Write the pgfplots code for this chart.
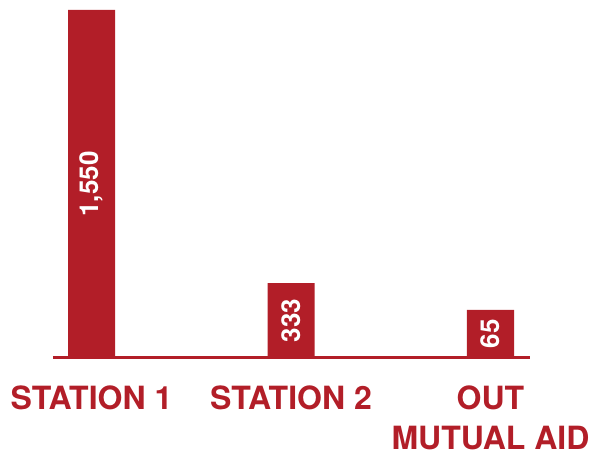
\documentclass[border=0pt]{standalone}
\usepackage{fontspec}
\setmainfont{TeX Gyre Heros}
\usepackage{pgfplots}
\usepackage{pgfplotstable}
\pgfplotsset{compat=1.18}
\definecolor{fdred}{RGB}{178,30,40}
\pgfplotstableread{
x y lab
0 1550 1,550
1 333 333
2 214 65
}\datatable
\begin{document}
\begin{tikzpicture}
\useasboundingbox (0,0) rectangle (592pt,457pt);
\begin{axis}[
  at={(53pt,99pt)}, anchor=south west,
  scale only axis, width=477pt, height=348pt,
  xmin=-0.193, xmax=2.198, ymin=0, ymax=1550,
  axis x line=bottom, axis y line=none,
  axis line style={line width=3pt, draw=fdred, -},
  xtick={0,1,2},
  xticklabels={STATION 1, STATION 2, {OUT\\MUTUAL AID}},
  major tick length=0pt,
  xticklabel shift=28pt,
  xticklabel style={font=\bfseries\fontsize{32}{40}\selectfont, text=fdred, align=center, anchor=north, inner sep=0pt},
  ybar, bar width=47pt,
  clip=false,
]
\addplot[fill=fdred, draw=none,
  point meta=explicit symbolic,
  visualization depends on=y \as \rawy,
  nodes near coords,
  nodes near coords style={shift={(axis direction cs:0,-\rawy/2)}, rotate=90, anchor=center, text=white, inner sep=0pt, font=\bfseries\fontsize{26}{26}\selectfont},
] table[x=x, y=y, meta=lab] {\datatable};
\end{axis}
\end{tikzpicture}
\end{document}
